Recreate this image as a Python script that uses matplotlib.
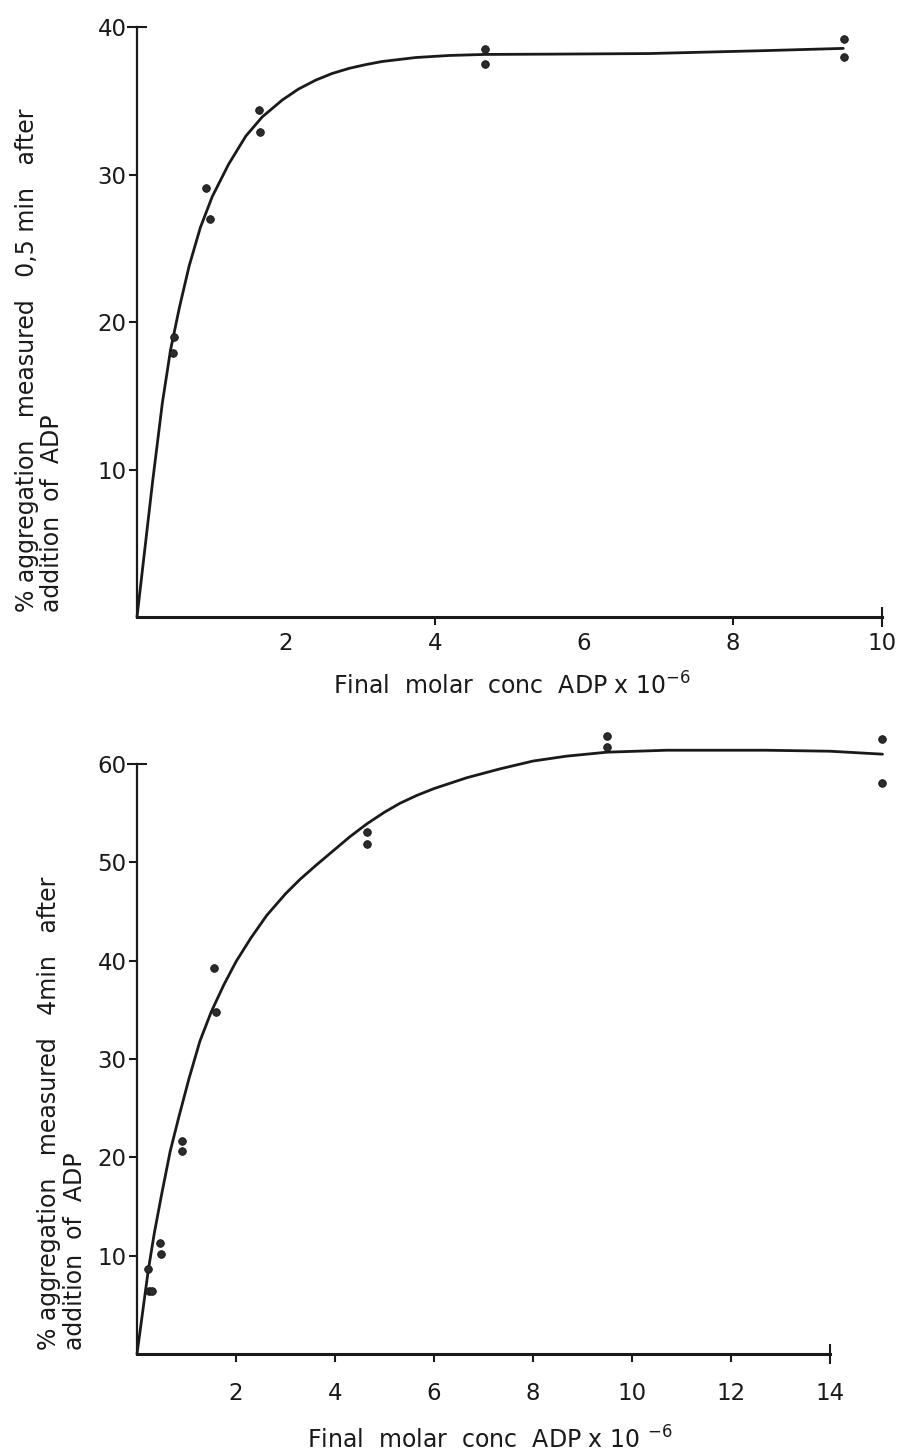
import matplotlib
matplotlib.use('Agg')
import matplotlib.pyplot as plt

plt.rcParams['font.family'] = ['DejaVu Sans']

# upper panel: aggregation 0.5 min after ADP
top_dose = [0.49, 0.48, 0.93, 0.98, 1.64, 1.65, 4.67, 4.67, 9.49, 9.49]
top_aggr = [19.0, 17.9, 29.1, 27.0, 34.4, 32.9, 38.5, 37.5, 39.2, 38.0]
top_fit_x = [0, 0.21, 0.34, 0.45, 0.57, 0.70, 0.85, 1.01, 1.23, 1.46, 1.68,
             1.95, 2.17, 2.4, 2.62, 2.85, 3.07, 3.29, 3.74, 4.19, 4.67, 5.53,
             6.87, 8.44, 9.48]
top_fit_y = [0, 9.2, 14.5, 18.1, 21.0, 23.8, 26.4, 28.5, 30.7, 32.6, 33.9,
             35.05, 35.8, 36.4, 36.85, 37.2, 37.45, 37.66, 37.93, 38.07, 38.14,
             38.16, 38.2, 38.4, 38.55]
top_xticks = [2, 4, 6, 8, 10]
top_yticks = [10, 20, 30, 40]

# lower panel: aggregation 4 min after ADP
bot_dose = [0.23, 0.25, 0.30, 0.46, 0.48, 0.90, 0.90, 1.56, 1.60,
            4.65, 4.65, 9.49, 9.49, 15.06, 15.06]
bot_aggr = [8.6, 6.4, 6.4, 11.25, 10.2, 21.7, 20.6, 39.3, 34.8,
            53.1, 51.9, 62.8, 61.7, 62.5, 58.1]
bot_fit_x = [0, 0.12, 0.23, 0.35, 0.5, 0.67, 0.85, 1.05, 1.27, 1.5, 1.75, 2.0,
             2.3, 2.62, 3.0, 3.3, 3.64, 3.97, 4.3, 4.64, 5.0, 5.31, 5.65, 6.0,
             6.66, 7.33, 8.0, 8.68, 9.49, 10.7, 12.7, 14.0, 15.06]
bot_fit_y = [0, 4.5, 8.6, 12.3, 16.3, 20.6, 24.2, 28.0, 31.8, 34.8, 37.5, 39.9,
             42.3, 44.6, 46.8, 48.3, 49.8, 51.2, 52.6, 53.9, 55.1, 56.0, 56.8,
             57.5, 58.6, 59.5, 60.3, 60.8, 61.2, 61.4, 61.4, 61.3, 61.0]
bot_xticks = [2, 4, 6, 8, 10, 12, 14]
bot_yticks = [10, 20, 30, 40, 50, 60]

ink = '#1a1a1a'
W, H = 903, 1456

fig = plt.figure(figsize=(W / 100, H / 100), dpi=100)
fig.patch.set_facecolor('white')


def panel(rect, xmax, ymax, xticks, yticks, fit_x, fit_y, dose, aggr, label_pad):
    ax = fig.add_axes(rect)
    ax.set_xlim(0, xmax)
    ax.set_ylim(0, ymax)
    for s in ('top', 'right'):
        ax.spines[s].set_visible(False)
    ax.spines['left'].set_linewidth(1.6)
    ax.spines['bottom'].set_linewidth(2.2)
    ax.spines['left'].set_color(ink)
    ax.spines['bottom'].set_color(ink)
    ax.set_xticks(xticks)
    ax.set_yticks(yticks)
    ax.tick_params(axis='both', direction='out', length=5.5, width=1.5,
                   color=ink, labelsize=16.5, labelcolor=ink)
    ax.tick_params(axis='x', pad=label_pad)
    ax.tick_params(axis='y', pad=2)
    # end-of-axis ticks cross the spine
    xt = ax.xaxis.get_major_ticks()
    xt[-1].tick1line.set_marker('|')
    xt[-1].tick1line.set_markersize(14)
    yt = ax.yaxis.get_major_ticks()
    yt[-1].tick1line.set_marker('_')
    yt[-1].tick1line.set_markersize(14)
    ax.plot(fit_x, fit_y, color=ink, lw=2.0, clip_on=False,
            solid_capstyle='round', solid_joinstyle='round')
    ax.plot(dose, aggr, 'o', color='#2b2b2b', ms=5.5, mec='#111111', mew=0.6,
            clip_on=False)
    return ax


def fx(px):
    return px / W


def fy(py):
    return 1 - py / H


ax1 = panel([fx(137), fy(617), fx(882) - fx(137), (617 - 27) / H], 10, 40,
            top_xticks, top_yticks, top_fit_x, top_fit_y, top_dose, top_aggr, 5)
# no tick marks under 2 and 6 on the upper axis
for i in (0, 2):
    ax1.xaxis.get_major_ticks()[i].tick1line.set_visible(False)

ax2 = panel([fx(137), fy(1354), fx(830) - fx(137), (1354 - 764) / H], 14, 60,
            bot_xticks, bot_yticks, bot_fit_x, bot_fit_y, bot_dose, bot_aggr, 15)

fig.text(fx(512), fy(686), 'Final  molar  conc  ADP x 10$^{-6}$',
         ha='center', va='center', fontsize=17, color=ink)
fig.text(fx(490), fy(1440), 'Final  molar  conc  ADP x 10 $^{-6}$',
         ha='center', va='center', fontsize=17, color=ink)

fig.text(fx(27), fy(612), '% aggregation   measured   0,5 min   after',
         rotation=90, ha='center', va='bottom', fontsize=17, color=ink)
fig.text(fx(52), fy(612), 'addition  of  ADP',
         rotation=90, ha='center', va='bottom', fontsize=17, color=ink)
fig.text(fx(49), fy(1350), '% aggregation   measured   4min   after',
         rotation=90, ha='center', va='bottom', fontsize=17, color=ink)
fig.text(fx(75), fy(1350), 'addition  of  ADP',
         rotation=90, ha='center', va='bottom', fontsize=17, color=ink)

fig.savefig('out.png', dpi=100, facecolor='white')
